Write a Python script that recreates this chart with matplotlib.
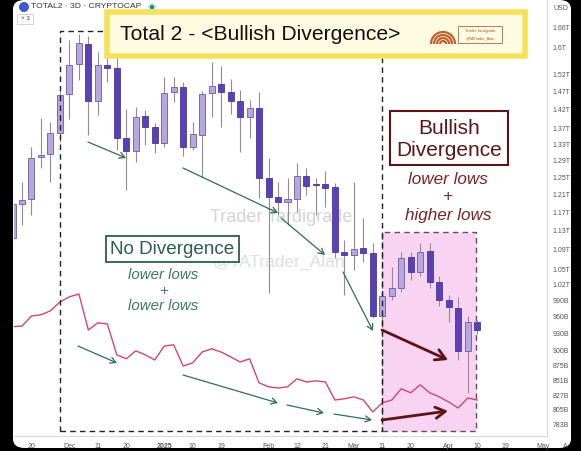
import numpy as np
import pandas as pd
import matplotlib
matplotlib.use('Agg')
from matplotlib import pyplot as plt
import matplotlib.dates as mdates
from matplotlib.patches import Rectangle, FancyBboxPatch, FancyArrowPatch, Ellipse, Arc
from matplotlib.ticker import FixedLocator, NullLocator

plt.rcParams['font.family'] = ['Liberation Sans', 'DejaVu Sans']

# 3D candles, TOTAL2 in billions USD
dates = ['2024-11-14', '2024-11-17', '2024-11-20', '2024-11-23', '2024-11-26', '2024-11-29',
         '2024-12-02', '2024-12-05', '2024-12-08', '2024-12-11', '2024-12-14', '2024-12-17',
         '2024-12-20', '2024-12-23', '2024-12-26', '2024-12-29', '2025-01-01', '2025-01-04',
         '2025-01-07', '2025-01-10', '2025-01-13', '2025-01-16', '2025-01-19', '2025-01-22',
         '2025-01-25', '2025-01-28', '2025-01-31', '2025-02-03', '2025-02-06', '2025-02-09',
         '2025-02-12', '2025-02-15', '2025-02-18', '2025-02-21', '2025-02-24', '2025-02-27',
         '2025-03-02', '2025-03-05', '2025-03-08', '2025-03-11', '2025-03-14', '2025-03-17',
         '2025-03-20', '2025-03-23', '2025-03-26', '2025-03-29', '2025-04-01', '2025-04-04',
         '2025-04-07', '2025-04-10']
opens = [1114, 1188, 1199, 1299, 1306, 1359, 1464, 1549, 1609, 1444,
         1546, 1538, 1347, 1314, 1404, 1375, 1334, 1469, 1483, 1324,
         1354, 1466, 1492, 1469, 1444, 1401, 1425, 1248, 1204, 1193,
         1200, 1253, 1234, 1234, 1227, 1085, 1079, 1093, 1083, 961,
         998, 1013, 1075, 1045, 1087, 1025, 991, 976, 899, 950]
highs = [1206, 1239, 1324, 1399, 1388, 1469, 1622, 1640, 1634, 1585,
         1606, 1582, 1423, 1428, 1420, 1385, 1512, 1512, 1497, 1388,
         1472, 1555, 1544, 1506, 1475, 1447, 1469, 1297, 1239, 1248,
         1284, 1272, 1248, 1265, 1236, 1110, 1239, 1157, 1103, 1006,
         1055, 1085, 1085, 1103, 1103, 1037, 1000, 996, 961, 954]
lows = [1097, 1142, 1164, 1272, 1239, 1337, 1396, 1503, 1354, 1407,
        1497, 1316, 1220, 1287, 1329, 1309, 1324, 1442, 1302, 1316,
        1251, 1401, 1375, 1409, 1311, 1347, 1202, 1004, 1164, 1142,
        1170, 1209, 1164, 1182, 1073, 1000, 1049, 1065, 957, 954,
        991, 1006, 1029, 1037, 1013, 979, 950, 884, 830, 929]
closes = [1188, 1197, 1297, 1304, 1359, 1461, 1547, 1612, 1444, 1546,
          1538, 1347, 1314, 1401, 1375, 1334, 1466, 1483, 1324, 1357,
          1464, 1486, 1469, 1444, 1401, 1425, 1248, 1204, 1193, 1200,
          1253, 1230, 1232, 1225, 1085, 1079, 1091, 1083, 961, 998,
          1013, 1073, 1045, 1085, 1025, 991, 978, 899, 950, 936]

# oscillator line drawn in the lower part of the pane
osc = [48.3, 48.5, 51.0, 51.3, 52.3, 54.5, 55.8, 56.5, 47.5, 49.3,
       49.0, 41.3, 40.3, 42.3, 41.3, 40.0, 43.5, 43.8, 38.5, 39.3,
       42.0, 42.8, 42.0, 40.8, 39.5, 40.3, 34.3, 33.3, 33.0, 33.3,
       35.3, 34.5, 34.8, 34.5, 30.0, 30.3, 30.8, 30.0, 27.0, 29.3,
       30.0, 32.8, 31.8, 33.8, 31.8, 30.8, 29.5, 28.0, 30.5, 30.0]

price_ticks = [1660, 1600, 1520, 1470, 1420, 1370, 1330, 1290, 1250, 1210, 1170, 1130,
               1090, 1050, 1020, 990, 960, 930, 900, 875, 851, 827, 805, 783]
price_labels = ['1.66T', '1.6T', '1.52T', '1.47T', '1.42T', '1.37T', '1.33T', '1.29T',
                '1.25T', '1.21T', '1.17T', '1.13T', '1.09T', '1.05T', '1.02T', '990B',
                '960B', '930B', '900B', '875B', '851B', '827B', '805B', '783B']
date_ticks = ['2024-11-20', '2024-12-02', '2024-12-11', '2024-12-20', '2025-01-01',
              '2025-01-10', '2025-01-19', '2025-02-03', '2025-02-12', '2025-02-21',
              '2025-03-02', '2025-03-11', '2025-03-20', '2025-04-01', '2025-04-10',
              '2025-04-19', '2025-05-01']
date_labels = ['20', 'Dec', '11', '20', '2025', '10', '19', 'Feb', '12', '21',
               'Mar', '11', '20', 'Apr', '10', '19', 'May']

W, H = 581, 451

def fp(x, y):
    # screenshot pixel -> figure fraction
    return (x / W, 1 - y / H)

fig = plt.figure(figsize=(W / 100, H / 100), dpi=100, facecolor='black')

def rect_px(x0, y0, x1, y1, **kw):
    return Rectangle((x0 / W, 1 - y1 / H), (x1 - x0) / W, (y1 - y0) / H,
                     transform=fig.transFigure, **kw)

# phone screen
fig.add_artist(FancyBboxPatch((13 / W, 1 - 448 / H), 558 / W, 448 / H,
                              boxstyle='round,pad=0,rounding_size=0.02',
                              transform=fig.transFigure, fc='white', ec='none', zorder=-10))

ax = fig.add_axes([14 / W, 1 - 436 / H, 533 / W, 436 / H])
ax.set_facecolor('none')
ax.set_yscale('log')
ax.set_ylim(765.4, 1749.2)
ax.set_xlim(pd.Timestamp('2024-11-14 11:17'), pd.Timestamp('2025-05-02 02:24'))

d = mdates.date2num(pd.to_datetime(dates))
o = np.array(opens, dtype=float)
c = np.array(closes, dtype=float)
up = c >= o
body_fc = np.where(up, '#b5a8dc', '#5a41b4')
body_ec = np.where(up, '#6b5aa8', '#4a34a0')

ax.vlines(d, lows, highs, color='#8e8e8e', lw=0.8, zorder=2)
ax.bar(d, np.maximum(np.abs(c - o), 1.5), bottom=np.minimum(o, c), width=1.9,
       color=body_fc, edgecolor=body_ec, lw=0.6, zorder=3)

# pink divergence zone behind candles
ax.add_patch(rect_px(382, 232, 476, 431, fc='#f9d4f2', ec='#6a4a5e', lw=1,
                     ls=(0, (4, 3)), zorder=1, clip_on=False))

# watermark
ax.text(*fp(281, 217), 'Trader Tardigrade', transform=fig.transFigure, ha='center',
        va='center', fontsize=13, color='#d4d4d4', zorder=1.5)
ax.text(*fp(279, 262), '@TATrader_Alan', transform=fig.transFigure, ha='center',
        va='center', fontsize=12.5, color='#dedede', zorder=1.5)

ax2 = ax.twinx()
ax2.set_ylim(21, 130)
ax2.plot(d, osc, color='#d4466f', lw=1, zorder=4)
ax2.set_axis_off()

for s in ['top', 'left']:
    ax.spines[s].set_visible(False)
for s in ['right', 'bottom']:
    ax.spines[s].set_color('#d8d8d8')
    ax.spines[s].set_linewidth(0.8)

ax.yaxis.tick_right()
ax.yaxis.set_major_locator(FixedLocator(price_ticks))
ax.yaxis.set_minor_locator(NullLocator())
ax.set_yticklabels(price_labels)
ax.tick_params(axis='y', which='both', left=False, labelleft=False, right=False,
               labelright=True, length=0, pad=4, labelsize=5, labelcolor='#555555')

ax.set_xticks(mdates.date2num(pd.to_datetime(date_ticks)))
ax.set_xticklabels(date_labels)
ax.tick_params(axis='x', length=0, pad=5, labelsize=5, labelcolor='#555555')
for lbl in ax.get_xticklabels():
    if lbl.get_text() == '2025':
        lbl.set_fontweight('bold')

# dashed "no divergence" frame
fig.add_artist(rect_px(60, 31, 382, 431, fc='none', ec='#222222', lw=1,
                       ls=(0, (4, 3)), zorder=5))

# title banner
fig.add_artist(rect_px(107, 12, 525, 56, fc='#fdfbe2', ec='#f6e25a', lw=4, zorder=6))
fig.text(*fp(120, 34), 'Total 2 - <Bullish Divergence>', ha='left', va='center',
         fontsize=15.2, color='#111111', zorder=7)
for r in [3, 6, 9, 12]:
    fig.add_artist(Arc(fp(443, 44), 2 * r / W, 2 * r / H, theta1=0, theta2=180,
                       transform=fig.transFigure, color='#c2602c', lw=1.6, zorder=7))
fig.add_artist(rect_px(458, 26, 502, 43, fc='none', ec='#b8653a', lw=0.6, zorder=7))
fig.text(*fp(480, 31), 'Trader Tardigrade', ha='center', va='center', fontsize=2.8,
         color='#b0582a', zorder=7)
fig.text(*fp(480, 38), '@TATrader_Alan', ha='center', va='center', fontsize=2.8,
         color='#b0582a', zorder=7)

# bullish divergence label
fig.add_artist(rect_px(390, 111, 508, 165, fc='white', ec='#5a1616', lw=1.5, zorder=6))
fig.text(*fp(449, 129), 'Bullish', ha='center', va='center', fontsize=15,
         color='#5a1616', zorder=7)
fig.text(*fp(449, 151), 'Divergence', ha='center', va='center', fontsize=15,
         color='#5a1616', zorder=7)
for txt, yy in [('lower lows', 180), ('+', 197), ('higher lows', 215)]:
    fig.text(*fp(448, yy), txt, ha='center', va='center', fontsize=12.3,
             style='italic', color='#7a2222', zorder=7)

# no divergence label
fig.add_artist(rect_px(106, 236, 239, 262, fc='white', ec='#2c5f4a', lw=1.3, zorder=6))
fig.text(*fp(172.5, 249.5), 'No Divergence', ha='center', va='center', fontsize=13.6,
         color='#2c5f4a', zorder=7)
for txt, yy in [('lower lows', 275), ('+', 291), ('lower lows', 306)]:
    fig.text(*fp(163, yy), txt, ha='center', va='center', fontsize=10.8,
             style='italic', color='#3d7a63', zorder=7)

# arrows
green = '#2f6e57'
green_arrows = [((88, 142), (126, 158)), ((183, 168), (278, 213)), ((281, 218), (325, 255)),
                ((343, 272), (373, 331)), ((78, 346), (117, 363)), ((183, 375), (278, 403)),
                ((287, 405), (324, 413)), ((334, 414), (372, 420))]
for a, b in green_arrows:
    fig.add_artist(FancyArrowPatch(fp(*a), fp(*b), transform=fig.transFigure,
                                   arrowstyle='->,head_length=4,head_width=2.2',
                                   color=green, lw=0.9, shrinkA=0, shrinkB=0, zorder=6))
for a, b in [((382, 330), (448, 360)), ((382, 420), (448, 411))]:
    fig.add_artist(FancyArrowPatch(fp(*a), fp(*b), transform=fig.transFigure,
                                   arrowstyle='->,head_length=7,head_width=4',
                                   color='#5e1212', lw=2, shrinkA=0, shrinkB=0, zorder=6))

# tradingview header bits
fig.add_artist(Ellipse(fp(24, 7), 9 / W, 9 / H, transform=fig.transFigure,
                       fc='#3b5bd9', ec='#1f3aa8', lw=0.5, zorder=7))
fig.text(*fp(31, 7), 'TOTAL2 · 3D · CRYPTOCAP', ha='left', va='center', fontsize=6.1,
         color='#333333', zorder=7)
fig.add_artist(Ellipse(fp(152, 7), 6 / W, 6 / H, transform=fig.transFigure,
                       fc='#2e8b5e', ec='#bfe6cf', lw=1.2, zorder=7))
fig.add_artist(rect_px(17, 14, 33, 24, fc='white', ec='#cccccc', lw=0.6, zorder=7))
fig.text(*fp(25, 19), '˅ 3', ha='center', va='center', fontsize=4.5,
         color='#333333', zorder=8)
fig.text(*fp(553, 8), 'USD', ha='left', va='center', fontsize=5, color='#555555', zorder=7)
fig.text(*fp(565, 446), 'A', ha='center', va='center', fontsize=5, color='#555555', zorder=7)

fig.savefig('out.png', dpi=100, facecolor=fig.get_facecolor())
